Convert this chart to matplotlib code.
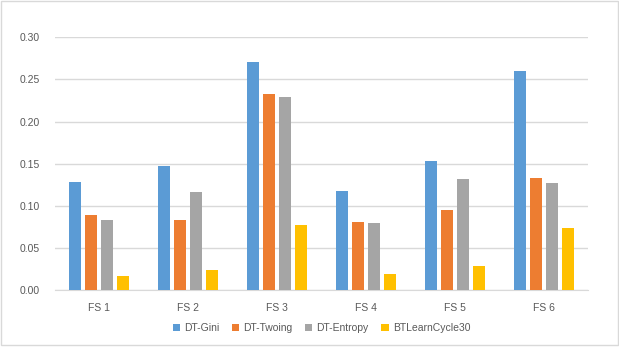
import numpy as np
import matplotlib.pyplot as plt
from matplotlib.patches import Rectangle

categories = ['FS 1', 'FS 2', 'FS 3', 'FS 4', 'FS 5', 'FS 6']
dt_gini = [0.128, 0.147, 0.271, 0.118, 0.153, 0.260]
dt_twoing = [0.089, 0.083, 0.233, 0.081, 0.095, 0.133]
dt_entropy = [0.083, 0.116, 0.229, 0.080, 0.132, 0.127]
bt_learn = [0.017, 0.024, 0.077, 0.019, 0.029, 0.074]

series = [
    ('DT-Gini', dt_gini, '#5b9bd5'),
    ('DT-Twoing', dt_twoing, '#ed7d31'),
    ('DT-Entropy', dt_entropy, '#a5a5a5'),
    ('BTLearnCycle30', bt_learn, '#ffc000'),
]

plt.rcParams['font.family'] = ['Liberation Sans', 'DejaVu Sans']
txt = '#595959'

fig = plt.figure(figsize=(6.19, 3.49), dpi=100)
ax = fig.add_axes([0.0889, 0.169, 0.861, 0.724])

x = np.arange(len(categories))
step = 0.18
width = 0.135
for i, (name, vals, col) in enumerate(series):
    ax.bar(x + (i - 1.5) * step, vals, width, color=col, label=name, zorder=3)

ax.set_xlim(-0.5, len(categories) - 0.5)
ax.set_ylim(0, 0.30)
ax.set_yticks(np.arange(0, 0.31, 0.05))
ax.set_yticklabels(['%.2f' % v for v in np.arange(0, 0.31, 0.05)])
ax.set_xticks(x)
ax.set_xticklabels(categories)
ax.yaxis.grid(True, color='#d9d9d9', linewidth=1, zorder=0)
for s in ['top', 'right', 'left']:
    ax.spines[s].set_visible(False)
ax.spines['bottom'].set_color('#d9d9d9')
ax.tick_params(axis='both', length=0, colors=txt, labelsize=7.5)
ax.tick_params(axis='y', pad=11)
ax.tick_params(axis='x', pad=9)

ax.legend(loc='upper center', bbox_to_anchor=(0.5, -0.095), ncol=4, frameon=False,
          fontsize=7.5, labelcolor=txt, handlelength=0.7, handleheight=0.7,
          handletextpad=0.4, columnspacing=1.2)

fig.patches.append(Rectangle((0.002, 0.012), 0.996, 0.985, transform=fig.transFigure,
                             fill=False, edgecolor='#d9d9d9', linewidth=1))

fig.savefig('out.png', dpi=100)
